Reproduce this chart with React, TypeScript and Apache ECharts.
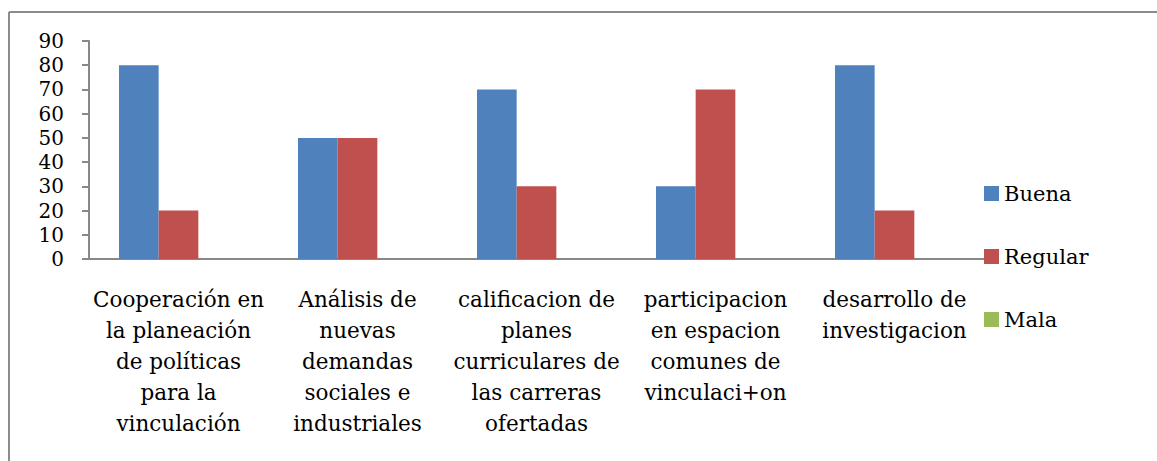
import React, { useEffect, useRef } from "react";
import * as echarts from "echarts";

const categories = [
  "Cooperación en\nla planeación\nde políticas\npara la\nvinculación",
  "Análisis de\nnuevas\ndemandas\nsociales e\nindustriales",
  "calificacion de\nplanes\ncurriculares de\nlas carreras\nofertadas",
  "participacion\nen espacion\ncomunes de\nvinculaci+on",
  "desarrollo de\ninvestigacion",
];
const buena = [80, 50, 70, 30, 80];
const regular = [20, 50, 30, 70, 20];
const mala = [0, 0, 0, 0, 0];

const FONT = "'DejaVu Serif', 'Liberation Serif', serif";

export default function App() {
  const ref = useRef<HTMLDivElement>(null);
  useEffect(() => {
    document.body.style.margin = "0";
    const chart = echarts.init(ref.current!, null, { renderer: "svg" });
    chart.setOption({
      animation: false,
      backgroundColor: "#ffffff",
      textStyle: { fontFamily: FONT, color: "#000" },
      grid: { left: 89, top: 41, right: 173, bottom: 202 },
      legend: {
        orient: "vertical",
        left: 979,
        top: 178,
        itemWidth: 15,
        itemHeight: 15,
        itemGap: 42,
        icon: "rect",
        textStyle: { fontFamily: FONT, fontSize: 21, color: "#000" },
        data: ["Buena", "Regular", "Mala"],
      },
      xAxis: {
        type: "category",
        data: categories,
        axisLine: { lineStyle: { color: "#888", width: 2 } },
        axisTick: { length: 7, lineStyle: { color: "#888", width: 2 } },
        axisLabel: {
          fontFamily: FONT,
          fontSize: 21.5,
          lineHeight: 31,
          color: "#000",
          margin: 25,
          interval: 0,
          align: "center",
        },
      },
      yAxis: {
        type: "value",
        min: 0,
        max: 90,
        interval: 10,
        splitLine: { show: false },
        axisLine: { show: true, lineStyle: { color: "#888", width: 2 } },
        axisTick: { show: true, length: 7, lineStyle: { color: "#888", width: 2 } },
        axisLabel: { fontFamily: FONT, fontSize: 20, color: "#000", margin: 25 },
      },
      series: [
        { name: "Buena", type: "bar", data: buena, itemStyle: { color: "#4F81BD" }, barGap: "0%", barCategoryGap: "33.5%" },
        { name: "Regular", type: "bar", data: regular, itemStyle: { color: "#C0504D" }, barGap: "0%", barCategoryGap: "33.5%" },
        { name: "Mala", type: "bar", data: mala, itemStyle: { color: "#9BBB59" }, barGap: "0%", barCategoryGap: "33.5%" },
      ],
      graphic: [
        { type: "line", shape: { x1: 9, y1: 12, x2: 1157, y2: 12 }, style: { stroke: "#8c8c8c", lineWidth: 2 } },
        { type: "line", shape: { x1: 9, y1: 12, x2: 9, y2: 461 }, style: { stroke: "#8c8c8c", lineWidth: 2 } },
      ],
    });
    return () => chart.dispose();
  }, []);
  return <div ref={ref} style={{ width: 1157, height: 461 }} />;
}
